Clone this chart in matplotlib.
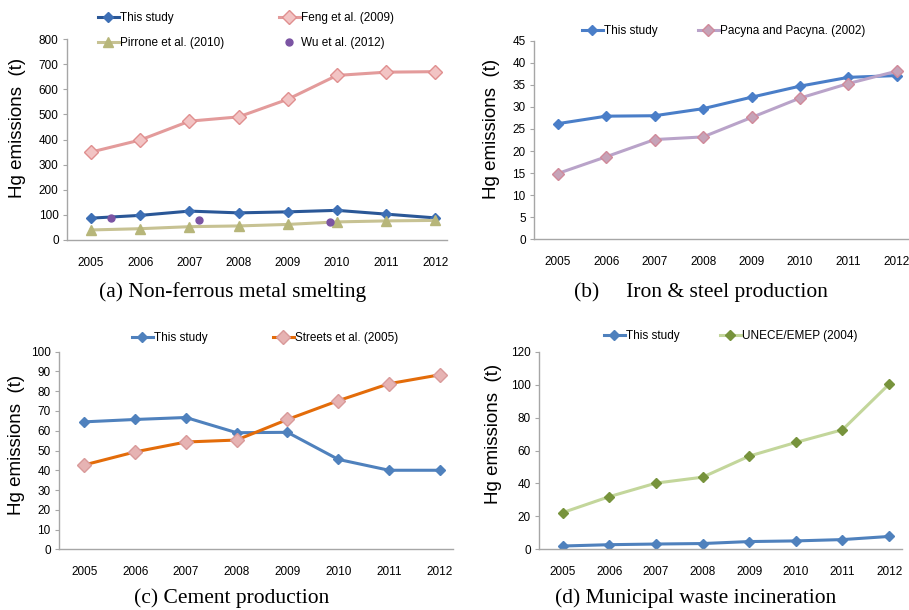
import matplotlib
matplotlib.use("Agg")
import matplotlib.pyplot as plt

# annees communes aux quatre panneaux
years = [2005, 2006, 2007, 2008, 2009, 2010, 2011, 2012]

# (a) metaux non ferreux
a_this = [87, 98, 115, 108, 112, 118, 103, 88]
a_feng = [350, 398, 473, 490, 560, 655, 668, 670]
a_pirrone = [40, 45, 53, 56, 62, 72, 76, 78]
a_wu_x = [2005.4, 2007.2, 2009.85]
a_wu = [86, 80, 73]

# (b) fer et acier
b_this = [26.2, 27.9, 28.0, 29.6, 32.2, 34.7, 36.7, 37.1]
b_pacyna = [14.9, 18.7, 22.6, 23.2, 27.6, 32.0, 35.3, 38.1]

# (c) ciment
c_this = [64.5, 65.7, 66.7, 59.0, 59.2, 45.5, 40.0, 40.0]
c_streets = [42.7, 49.3, 54.3, 55.3, 65.7, 75.2, 83.8, 88.3]

# (d) incineration des dechets
d_this = [2.0, 2.8, 3.2, 3.5, 4.7, 5.1, 5.9, 7.8]
d_unece = [22.3, 32.0, 40.2, 43.8, 56.6, 64.9, 72.6, 100.3]

sans = ["Liberation Sans", "DejaVu Sans"]
serif = ["Liberation Serif", "DejaVu Serif"]
plt.rcParams["font.family"] = sans

W, H = 909, 610
fig = plt.figure(figsize=(W / 100, H / 100), dpi=100)


def make_ax(left, right, top, bottom, x0, x1, ymax, ystep, ylab_x, ylab_y):
    ax = fig.add_axes([left / W, 1 - bottom / H, (right - left) / W, (bottom - top) / H])
    ax.set_xlim(x0, x1)
    ax.set_ylim(0, ymax)
    ax.set_xticks(years)
    ax.set_xticklabels([str(y) for y in years])
    ax.set_yticks(range(0, ymax + 1, ystep))
    for s in ["top", "right"]:
        ax.spines[s].set_visible(False)
    for s in ["left", "bottom"]:
        ax.spines[s].set_color("#a6a6a6")
        ax.spines[s].set_linewidth(1.0)
    ax.tick_params(axis="x", length=0, pad=12, labelsize=8.5)
    ax.tick_params(axis="y", length=3, color="#a6a6a6", pad=3, labelsize=8.5)
    fig.text(ylab_x / W, 1 - ylab_y / H, "Hg emissions  (t)", rotation=90,
             ha="center", va="center", fontsize=13.5)
    return ax


def legend_col(handles, labels, x, y, spacing=1.15):
    # une colonne de legende placee en pixels (x = debut du trait)
    fig.legend(handles, labels, loc="center left", bbox_to_anchor=(x / W, 1 - y / H),
               frameon=False, fontsize=8.5, handlelength=1.75, handletextpad=0.15,
               labelspacing=spacing, borderpad=0, borderaxespad=0)


# ---- (a)
ax = make_ax(67, 447, 39, 240, 2004.51, 2012.24, 800, 100, 18, 128)
l1, = ax.plot(years, a_this, color="#2a5797", lw=2.2, marker="D", ms=5, mfc="#3d6fb5", mec="#3d6fb5")
l2, = ax.plot(years, a_feng, color="#e39b9b", lw=2.2, marker="D", ms=7, mfc="#f2c4c4", mec="#e08f8f")
l3, = ax.plot(years, a_pirrone, color="#c7c293", lw=2.2, marker="^", ms=7, mfc="#b7b67a", mec="#b7b67a")
l4, = ax.plot(a_wu_x, a_wu, ls="none", marker="o", ms=5, mfc="#7b54a3", mec="#7b54a3")
legend_col([l1, l3], ["This study", "Pirrone et al. (2010)"], 98, 30.5)
legend_col([l2, l4], ["Feng et al. (2009)", "Wu et al. (2012)"], 279, 30.5)
fig.text(233 / W, 1 - 292 / H, "(a) Non-ferrous metal smelting", ha="center", va="center", fontsize=15.5, family=serif)

# ---- (b)
ax = make_ax(534, 908, 40.7, 239.3, 2004.51, 2012.23, 45, 5, 492, 129)
l1, = ax.plot(years, b_this, color="#4a7ec8", lw=2.2, marker="D", ms=5, mfc="#4a7ec8", mec="#4a7ec8")
l2, = ax.plot(years, b_pacyna, color="#b9a3c9", lw=2.2, marker="D", ms=6, mfc="#c6a3b8", mec="#d08a9a")
legend_col([l1], ["This study"], 582, 31)
legend_col([l2], ["Pacyna and Pacyna. (2002)"], 698, 31)
fig.text(701 / W, 1 - 292 / H, "(b)     Iron & steel production", ha="center", va="center", fontsize=15.5, family=serif)

# ---- (c)
ax = make_ax(59, 453, 351.7, 549.3, 2004.50, 2012.26, 100, 10, 17, 445)
l1, = ax.plot(years, c_this, color="#4f81bd", lw=2.2, marker="D", ms=5, mfc="#4f81bd", mec="#4f81bd")
l2, = ax.plot(years, c_streets, color="#e36c0a", lw=2.2, marker="D", ms=7, mfc="#e6b3b3", mec="#d99a9a")
legend_col([l1], ["This study"], 132, 338)
legend_col([l2], ["Streets et al. (2005)"], 273, 338)
fig.text(232 / W, 1 - 598 / H, "(c) Cement production", ha="center", va="center", fontsize=15.5, family=serif)

# ---- (d)
ax = make_ax(539, 901.7, 351.7, 549.3, 2004.49, 2012.27, 120, 20, 493, 434)
l1, = ax.plot(years, d_this, color="#4f81bd", lw=2.2, marker="D", ms=5, mfc="#4f81bd", mec="#4f81bd")
l2, = ax.plot(years, d_unece, color="#c3d69b", lw=2.2, marker="D", ms=5, mfc="#77933c", mec="#77933c")
legend_col([l1], ["This study"], 604, 336)
legend_col([l2], ["UNECE/EMEP (2004)"], 720, 336)
fig.text(696 / W, 1 - 598 / H, "(d) Municipal waste incineration", ha="center", va="center", fontsize=15.5, family=serif)

fig.savefig("out.png", dpi=100)
